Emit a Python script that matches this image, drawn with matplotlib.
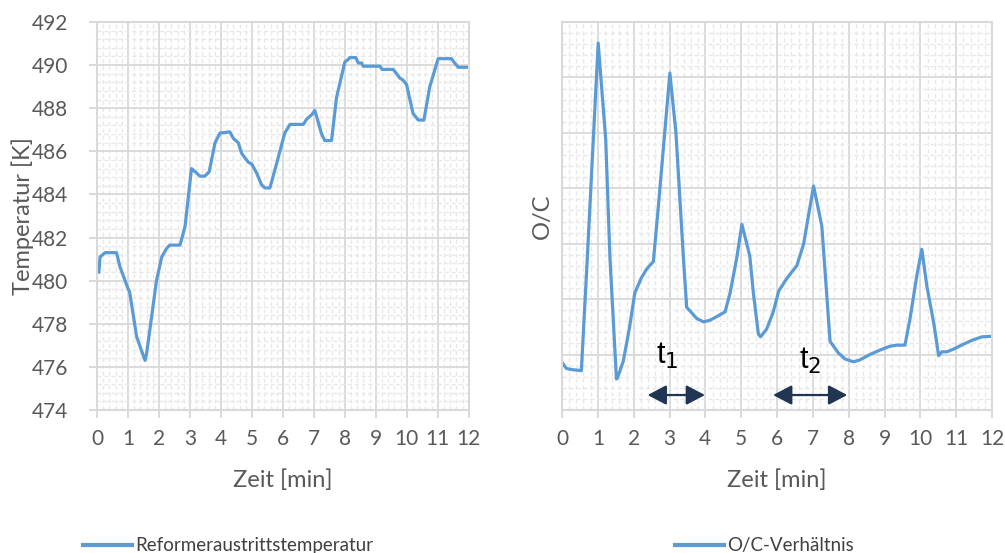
import matplotlib
matplotlib.use("Agg")
import matplotlib.pyplot as plt
from matplotlib.ticker import MultipleLocator
from matplotlib.lines import Line2D

# ---- Data ----
temp_time = [0.06, 0.10, 0.26, 0.63, 0.74, 1.01, 1.05, 1.28, 1.55, 1.60, 1.92, 2.09, 2.25, 2.35,
             2.68, 2.84, 3.05, 3.21, 3.32, 3.48, 3.62, 3.81, 3.97, 4.29, 4.40, 4.56, 4.67, 4.88,
             5.00, 5.15, 5.31, 5.42, 5.58, 5.80, 6.06, 6.23, 6.66, 6.77, 6.93, 7.03, 7.25, 7.35,
             7.57, 7.73, 8.00, 8.10, 8.16, 8.35, 8.43, 8.54, 8.59, 9.13, 9.20, 9.56, 9.67, 9.77,
             9.88, 9.99, 10.20, 10.37, 10.55, 10.74, 11.01, 11.44, 11.54, 11.66, 11.98]
temp_values = [480.4, 481.1, 481.3, 481.3, 480.65, 479.6, 479.5, 477.4, 476.3, 476.6, 480.0, 481.1,
               481.5, 481.65, 481.65, 482.5, 485.2, 485.0, 484.85, 484.85, 485.05, 486.4, 486.85,
               486.9, 486.6, 486.4, 485.9, 485.5, 485.4, 485.0, 484.45, 484.3, 484.3, 485.45,
               486.85, 487.25, 487.25, 487.5, 487.7, 487.9, 486.8, 486.5, 486.5, 488.5, 490.15,
               490.25, 490.35, 490.35, 490.1, 490.1, 489.95, 489.95, 489.8, 489.8, 489.6, 489.4,
               489.3, 489.1, 487.75, 487.45, 487.45, 489.0, 490.3, 490.3, 490.1, 489.9, 489.9]

oc_time = [0.00, 0.12, 0.26, 0.54, 0.69, 1.01, 1.22, 1.34, 1.52, 1.55, 1.71, 1.89, 2.03, 2.22,
           2.36, 2.55, 2.69, 3.01, 3.18, 3.39, 3.48, 3.57, 3.76, 3.95, 4.13, 4.36, 4.55, 4.69,
           4.87, 5.02, 5.24, 5.34, 5.48, 5.54, 5.71, 5.89, 6.05, 6.26, 6.40, 6.55, 6.74, 7.02,
           7.25, 7.48, 7.71, 7.90, 8.13, 8.30, 8.59, 8.87, 9.15, 9.34, 9.57, 9.71, 9.90, 10.04,
           10.18, 10.37, 10.51, 10.60, 10.74, 10.93, 11.21, 11.49, 11.72, 12.00]
oc_values = [0.86, 0.75, 0.73, 0.71, 2.54, 6.62, 4.88, 2.72, 0.56, 0.58, 0.88, 1.51, 2.11, 2.39,
             2.54, 2.68, 3.68, 6.08, 5.00, 2.72, 1.85, 1.79, 1.65, 1.59, 1.62, 1.70, 1.77, 2.11,
             2.72, 3.35, 2.78, 2.11, 1.37, 1.32, 1.46, 1.76, 2.15, 2.36, 2.48, 2.60, 2.99, 4.04,
             3.32, 1.24, 1.03, 0.92, 0.87, 0.90, 1.00, 1.08, 1.15, 1.17, 1.17, 1.64, 2.42, 2.90,
             2.24, 1.58, 0.98, 1.05, 1.05, 1.10, 1.19, 1.27, 1.32, 1.33]

x_ticks = list(range(0, 13))
temp_ticks = [474, 476, 478, 480, 482, 484, 486, 488, 490, 492]
t1_span = (2.39, 3.99)
t2_span = (5.89, 7.96)

LINE = "#5b9bd5"
GRID = "#d9d9d9"
MINOR = "#e8e8e8"
TXT = "#595959"
ARROW = "#1f3552"
FONT = ["Lato", "DejaVu Sans"]

plt.rcParams["font.family"] = FONT

fig = plt.figure(figsize=(10.05, 5.53), dpi=100)
axL = fig.add_axes([0.0965, 0.2586, 0.370, 0.7016])
axR = fig.add_axes([0.5592, 0.2586, 0.4279, 0.7016])


def style(ax):
    ax.set_axisbelow(True)
    ax.xaxis.set_minor_locator(MultipleLocator(0.2))
    ax.grid(which="major", color=GRID, lw=1.3, ls="-")
    ax.grid(which="minor", color=MINOR, lw=1.0, ls=(0, (3, 2)))
    for s in ax.spines.values():
        s.set_color(GRID)
        s.set_linewidth(1.5)
    ax.tick_params(which="minor", length=0)
    ax.tick_params(which="major", colors=GRID, labelcolor=TXT, labelsize=15,
                   length=6, width=1.4)
    ax.tick_params(axis="x", pad=8)
    ax.set_xlim(0, 12)
    ax.set_xticks(x_ticks)
    ax.set_xlabel("Zeit [min]", fontsize=17, color=TXT, labelpad=14)


# Left chart
style(axL)
axL.plot(temp_time, temp_values, color=LINE, lw=2.3)
axL.set_ylim(474, 492)
axL.set_yticks(temp_ticks)
axL.yaxis.set_minor_locator(MultipleLocator(0.4))
axL.tick_params(axis="y", pad=15)
axL.set_ylabel("Temperatur [K]", fontsize=17, color=TXT, labelpad=-2)

# Right chart
style(axR)
axR.plot(oc_time, oc_values, color=LINE, lw=2.3)
axR.set_ylim(0, 7)
axR.yaxis.set_major_locator(MultipleLocator(1))
axR.yaxis.set_minor_locator(MultipleLocator(0.2))
axR.tick_params(axis="y", length=0, labelleft=False)
axR.set_ylabel("O/C", fontsize=17, color=TXT, labelpad=3)

for span in (t1_span, t2_span):
    axR.annotate("", xy=(span[1], 0.27), xytext=(span[0], 0.27),
                 arrowprops=dict(arrowstyle="<|-|>,head_length=0.95,head_width=0.5",
                                 color=ARROW, lw=1.6, shrinkA=0, shrinkB=0,
                                 mutation_scale=12))
axR.text(2.93, 0.97, "t$_1$", fontsize=22, color="black", ha="center", va="center",
         family="Liberation Sans")
axR.text(6.93, 0.88, "t$_2$", fontsize=22, color="black", ha="center", va="center",
         family="Liberation Sans")

# Legends
leg_font = dict(family=["Lato", "DejaVu Sans"], size=13.5)
h1 = [Line2D([], [], color=LINE, lw=3.0)]
fig.legend(h1, ["Reformeraustrittstemperatur"], loc="center left",
           bbox_to_anchor=(0.066, 0.013), frameon=False, prop=leg_font,
           handlelength=2.6, handletextpad=0.15, labelcolor="#404040")
fig.legend(h1, ["O/C-Verhältnis"], loc="center left",
           bbox_to_anchor=(0.655, 0.013), frameon=False, prop=leg_font,
           handlelength=2.6, handletextpad=0.15, labelcolor="#404040")

fig.savefig("out.png", dpi=100)
